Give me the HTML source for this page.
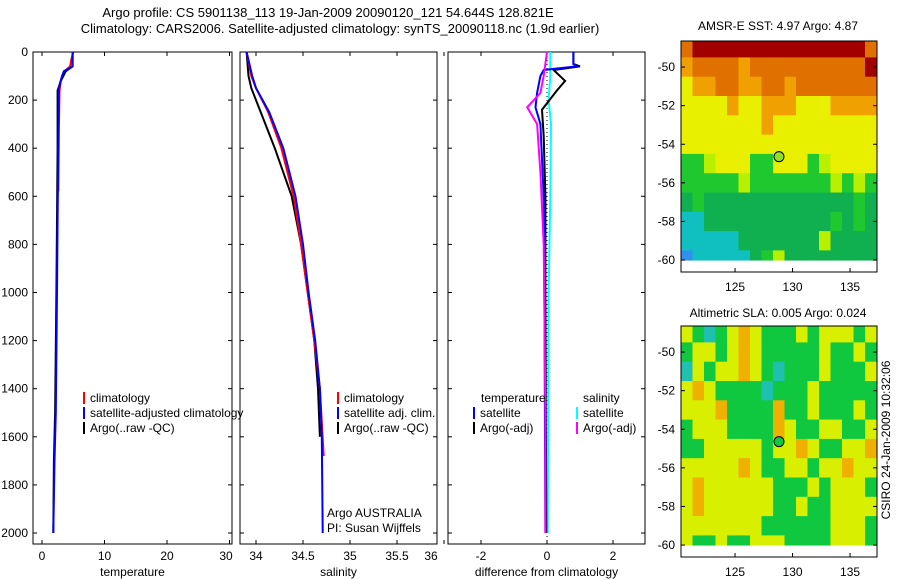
<!DOCTYPE html>
<html><head><meta charset="utf-8"><style>
body{margin:0;background:#fff}
svg{display:block;font-family:"Liberation Sans",sans-serif}
text{font-size:12px;fill:#000}
</style></head><body>
<svg id="c" width="900" height="580" viewBox="0 0 900 580">
<text x="328" y="17" text-anchor="middle" style="font-size:13px">Argo profile: CS 5901138_113 19-Jan-2009 20090120_121 54.644S 128.821E</text>
<text x="340" y="33" text-anchor="middle" style="font-size:13px">Climatology: CARS2006. Satellite-adjusted climatology: synTS_20090118.nc (1.9d earlier)</text>
<text x="778" y="30" text-anchor="middle">AMSR-E SST: 4.97 Argo: 4.87</text>
<text x="778" y="317" text-anchor="middle">Altimetric SLA: 0.005 Argo: 0.024</text>
<text transform="translate(890,440) rotate(-90)" text-anchor="middle">CSIRO 24-Jan-2009 10:32:06</text>
<g id="g"></g>
</svg>
<script>
// depth axis
const depthTicks=[0,200,400,600,800,1000,1200,1400,1600,1800,2000];
// temperature series
const tClimD=[0,30,60,80,120,160,300,580];
const tClimV=[5.0,4.7,4.5,3.6,3.0,2.8,2.7,2.6];
const tSatD=[0,60,80,100,150,400,700,1000,1500,1700,2000];
const tSatV=[4.9,4.9,3.5,3.2,2.7,2.6,2.5,2.4,2.2,2.0,1.8];
const tArgoD=[0,60,80,120,160,400,700,1000,1500,1700,2000];
const tArgoV=[4.9,4.9,3.8,3.0,2.5,2.5,2.4,2.3,2.1,1.9,1.8];
// salinity series
const sClimD=[0,100,150,250,400,600,800,1000,1200,1400,1680];
const sClimV=[33.9,33.95,34.0,34.13,34.27,34.4,34.48,34.55,34.62,34.68,34.72];
const sSatD=[0,100,150,250,400,600,800,1000,1200,1400,1600,2000];
const sSatV=[33.9,33.96,34.0,34.14,34.29,34.42,34.5,34.56,34.63,34.68,34.7,34.71];
const sArgoD=[0,100,150,250,400,600,800,1000,1200,1400,1600];
const sArgoV=[33.9,33.92,33.95,34.05,34.2,34.38,34.48,34.55,34.62,34.66,34.68];
// differences from climatology
const dTSatD=[0,50,60,75,100,170,230,300,600,1000,2000];
const dTSatV=[0.8,0.8,0.9,-0.1,-0.2,-0.3,-0.35,-0.2,-0.1,-0.08,-0.05];
const dTArgoD=[0,50,60,75,120,160,240,350,600,1000,2000];
const dTArgoV=[0.8,0.8,1.0,0.2,0.55,0.3,-0.15,-0.1,-0.05,-0.05,-0.02];
const dSSatD=[0,100,200,300,600,1000,2000];
const dSSatV=[0.1,0.1,0.05,0.12,0.1,0.05,0.02];
const dSArgoD=[0,100,170,230,300,500,800,1500,2000];
const dSArgoV=[0.0,-0.1,-0.2,-0.6,-0.3,-0.2,-0.1,-0.05,-0.05];
const tTicks=[0,10,20,30], sTicks=[34,34.5,35,35.5,36], dTicks=[-2,0,2];
const latTicks=[-50,-52,-54,-56,-58,-60], lonTicks=[125,130,135];
// SST grid (rows -49..-60, 17 cols lon 120.5..136.5)
const sstRows=["ORRRRRRRRRRRRRRRO","oOOOOoOOOOOOOOOOR","YooOOooOOoOOOOOOO","YYYYoYYoooYYYoooo","YYYYYYYoYYYYYYYYY","YYYYYYYYYYYYYYYYY","GGyYYYGGYYYGyYYYY","GGGGGyGGGGGGGyGyG","gGgggggggggggggGg","CCgggggggggggGgGg","CCCCCgggggggygggg","BCCCCCgGygggggggg"];
const slaRows=["YGCGYOYGGGYGYYYGY","GYYGYOYGGGGGYGGYG","CYGYYOYGCGGGYGGGY","YOYGGGGCGGGYGGGGG","YYYOGGGGOGGYGGGYG","GYYYGGGGOYGGYYGGY","GGYYYYYGYYOYGGYYO","YYYYYOYGGYYGYYOYY","YOYYYYYYGGGYGYYYG","YOYYYYYYGGYGGYYYY","YYYYYYYGGGGGGYYYG","YGGYGGYYYGGGGYYYG"];
const argoLat=-54.644, argoLon=128.821;

const NS="http://www.w3.org/2000/svg", G=document.getElementById('g');
function mk(t,a,p){const e=document.createElementNS(NS,t);for(const k in a)e.setAttribute(k,a[k]);(p||G).appendChild(e);return e;}
const yD=d=>52+d*0.2405;
const panels=[
 {x0:33,x1:232,sx:v=>42+v*6.25,ticks:tTicks,lab:"temperature",name:"temperature-panel"},
 {x0:240,x1:437,sx:v=>256+(v-34)*94,ticks:sTicks,lab:"salinity",name:"salinity-panel"},
 {x0:448,x1:645,sx:v=>547+v*33,ticks:dTicks,lab:"difference from climatology",name:"difference-panel"}];
panels.forEach((p,i)=>{
 const g=mk('g',{});
 
 
 mk('rect',{x:p.x0,y:52,width:p.x1-p.x0,height:492,fill:'none',stroke:'#000'},g);
 depthTicks.forEach(d=>{const y=yD(d);mk('line',{x1:p.x0,x2:p.x0+4,y1:y,y2:y,stroke:'#000'},g);mk('line',{x1:p.x1,x2:p.x1-4,y1:y,y2:y,stroke:'#000'},g);
  if(i==0){const t=mk('text',{x:28,y:y+4,'text-anchor':'end'},g);t.textContent=d;}});
 p.ticks.forEach(v=>{let x=p.sx(v);const lx=Math.min(x,p.x1-6);mk('line',{x1:x,x2:x,y1:544,y2:540,stroke:'#000'},g);mk('line',{x1:x,x2:x,y1:52,y2:56,stroke:'#000'},g);
  const t=mk('text',{x:lx,y:560,'text-anchor':'middle'},g);t.textContent=v;});
 const t=mk('text',{x:(p.x0+p.x1)/2,y:576,'text-anchor':'middle'},g);t.textContent=p.lab;
});
function line(D,V,sx,col,name,w){
 const pts=D.map((d,i)=>sx(V[i]).toFixed(1)+','+yD(d).toFixed(1)).join(' ');
 const e=mk('polyline',{points:pts,fill:'none',stroke:col,'stroke-width':w||2});
 
 
}
const P=panels;
line(tClimD,tClimV,P[0].sx,'#f00','temp-climatology-line');
line(tArgoD,tArgoV,P[0].sx,'#000','temp-argo-line');
line(tSatD,tSatV,P[0].sx,'#00f','temp-satellite-line');
line(sArgoD,sArgoV,P[1].sx,'#000','sal-argo-line');
line(sClimD,sClimV,P[1].sx,'#f00','sal-climatology-line');
line(sSatD,sSatV,P[1].sx,'#00f','sal-satellite-line');
mk('line',{x1:547,x2:547,y1:52,y2:544,stroke:'#000','stroke-dasharray':'1,3'});
line(dSSatD,dSSatV,P[2].sx,'#0ff','sal-diff-satellite-line');
line(dTArgoD,dTArgoV,P[2].sx,'#000','temp-diff-argo-line');
line(dTSatD,dTSatV,P[2].sx,'#00f','temp-diff-satellite-line');
line(dSArgoD,dSArgoV,P[2].sx,'#f0f','sal-diff-argo-line');
function leg(x,y,col,txt){const g=mk('g',{});
 if(col)mk('rect',{x:x,y:y-10,width:2,height:12,fill:col},g);const t=mk('text',{x:x+(col?7:0),y:y},g);t.textContent=txt;}
leg(83,402,'#f00','climatology');leg(83,417,'#00f','satellite-adjusted climatology');leg(83,432,'#000','Argo(..raw -QC)');
leg(337,402,'#f00','climatology');leg(337,417,'#00f','satellite adj. clim.');leg(337,432,'#000','Argo(..raw -QC)');
leg(481,402,null,'temperature');leg(473,417,'#00f','satellite');leg(473,432,'#000','Argo(-adj)');
leg(583,402,null,'salinity');leg(576,417,'#0ff','satellite');leg(576,432,'#f0f','Argo(-adj)');
const n1=mk('text',{x:327,y:517});n1.textContent='Argo AUSTRALIA';
const n2=mk('text',{x:327,y:532});n2.textContent='PI: Susan Wijffels';
// maps
const sstCol={R:'#a00000',O:'#e07000',o:'#f0a000',Y:'#e8f000',y:'#b8f000',G:'#20c830',g:'#10b050',C:'#10c0c0',B:'#3090f0'};
const slaCol={G:'#10c840',Y:'#d8f000',O:'#f0b000',C:'#20c0b0'};
function map(top,rows,cols,name,circ){
 const g=mk('g',{});
 const lx=v=>681+(v-120.3)*11.5, ly=v=>top+( -48.65 - v)*19.3;
 const bnd=i=>i===0?-48.65:(i>=rows.length?-60:-49.5-(i-1));
 rows.forEach((r,i)=>{const la0=bnd(i), la1=bnd(i+1);
  [...r].forEach((ch,j)=>{const lo0=120.3+j*1.0, lo1=j==16?137.3:lo0+1.0;
   mk('rect',{x:lx(lo0),y:ly(la0),width:lx(lo1)-lx(lo0)+0.5,height:ly(la1)-ly(la0)+0.5,fill:cols[ch]},g);});});
 mk('rect',{x:681,y:top,width:196,height:231,fill:'none',stroke:'#000'},g);
 latTicks.forEach(v=>{const y=ly(v);mk('line',{x1:681,x2:685,y1:y,y2:y,stroke:'#000'},g);mk('line',{x1:877,x2:873,y1:y,y2:y,stroke:'#000'},g);
  const t=mk('text',{x:675,y:y+4,'text-anchor':'end'},g);t.textContent=v;});
 lonTicks.forEach(v=>{const x=lx(v);mk('line',{x1:x,x2:x,y1:top+231,y2:top+227,stroke:'#000'},g);
  const t=mk('text',{x:x,y:top+250,'text-anchor':'middle'},g);t.textContent=v;});
 const c=mk('circle',{cx:lx(argoLon),cy:ly(argoLat),r:5,fill:circ,stroke:'#000'},g);
 
 
}
map(41,sstRows,sstCol,'sst-map','#90e020');
map(326,slaRows,slaCol,'sla-map','#10c840');
</script>
</body></html>
